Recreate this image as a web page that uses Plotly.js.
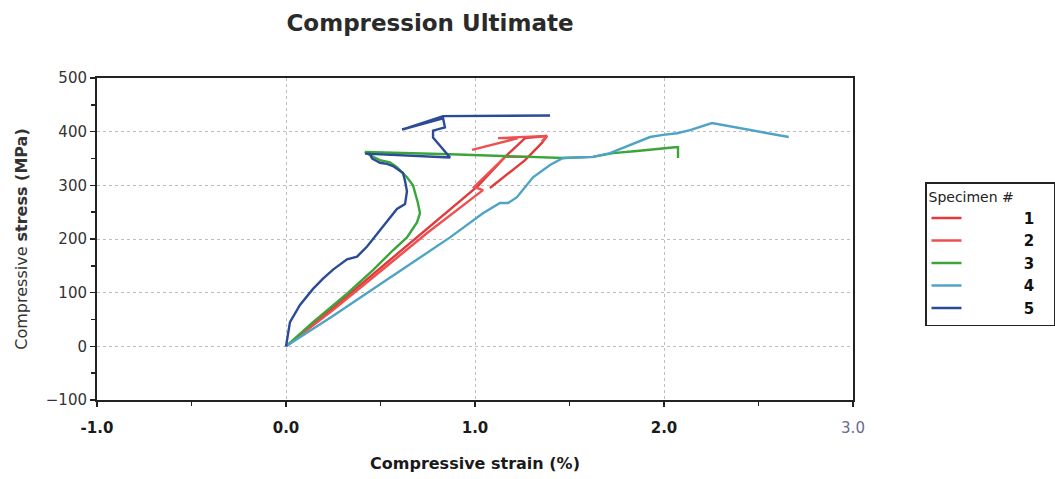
<!DOCTYPE html>
<html>
<head>
<meta charset="utf-8">
<script src="https://cdn.plot.ly/plotly-3.0.1.min.js"></script>
<style>html,body{margin:0;padding:0;background:#fff;}#chart{width:1055px;height:479px;}</style>
</head>
<body>
<div id="chart"></div>
<script>
// Specimen 1 (red)
var s1Strain = [0, 0.25, 0.5, 0.75, 1.016, 1.159, 1.265, 1.381, 1.354, 1.265, 1.079];
var s1Stress = [0, 72, 146, 221, 299, 353, 388, 392, 379, 347, 295];
// Specimen 2 (red, lighter)
var s2Strain = [0, 0.25, 0.5, 0.75, 1.042, 0.995, 1.159, 1.280, null, 0.984, 1.228, 1.122, 1.381, 1.354];
var s2Stress = [0, 68, 140, 212, 291, 297, 353, 353, null, 366, 388, 388, 392, 382];
// Specimen 3 (green)
var s3Strain = [0, 0.143, 0.323, 0.460, 0.566, 0.640, 0.693, 0.709, 0.698, 0.683, 0.672, 0.640, 0.587, 0.550, 0.497, 0.444, 0.418, 0.868, 1.466, 1.624, 1.730, 1.857, 1.979, 2.058, 2.074, 2.074];
var s3Stress = [0, 45, 98, 142, 179, 203, 231, 248, 267, 285, 300, 315, 334, 343, 347, 356, 362, 358, 351, 353, 360, 364, 369, 371, 371, 351];
// Specimen 4 (light blue)
var s4Strain = [0, 0.25, 0.5, 0.75, 0.868, 1.042, 1.132, 1.175, 1.222, 1.307, 1.397, 1.466, 1.624, 1.714, 1.820, 1.926, 1.995, 2.069, 2.138, 2.254, 2.660];
var s4Stress = [0, 57, 116, 174, 203, 248, 267, 267, 278, 315, 338, 351, 353, 360, 375, 390, 394, 397, 403, 416, 390];
// Specimen 5 (dark blue)
var s5Strain = [0, 0.021, 0.074, 0.143, 0.196, 0.249, 0.323, 0.376, 0.429, 0.481, 0.534, 0.587, 0.630, 0.640, 0.630, 0.619, 0.566, 0.534, 0.497, 0.455, 0.444, 0.418, 0.868, 0.815, 0.778, 0.778, 0.841, 0.831, 0.614, 0.831, 1.397];
var s5Stress = [0, 45, 77, 107, 126, 143, 162, 167, 186, 209, 233, 256, 265, 289, 308, 323, 336, 340, 342, 350, 359, 359, 352, 374, 389, 402, 408, 425, 404, 429, 430];

var specimenNames = ['1', '2', '3', '4', '5'];
var specimenColors = ['#e23a3c', '#ee5050', '#3aa63a', '#4ea3c6', '#2b4b98'];
var xTickVals = [-1, 0, 1, 2, 3];
var xTickText = ['<b>-1.0</b>', '<b>0.0</b>', '<b>1.0</b>', '<b>2.0</b>', '<span style="color:#6a6a8e">3.0</span>'];

var xs = [s1Strain, s2Strain, s3Strain, s4Strain, s5Strain];
var ys = [s1Stress, s2Stress, s3Stress, s4Stress, s5Stress];
var pad = '\u00A0'.repeat(12);
var traces = [];
for (var i = 0; i < 5; i++) {
  traces.push({
    x: xs[i], y: ys[i], type: 'scatter', mode: 'lines',
    name: pad + '<b>' + specimenNames[i] + '</b>' + '\u00A0\u00A0\u00A0',
    line: {color: specimenColors[i], width: 2.4},
    connectgaps: false
  });
}

var layout = {
  width: 1055, height: 479,
  paper_bgcolor: '#fff', plot_bgcolor: '#fff',
  margin: {l: 97, r: 202, t: 78, b: 79, autoexpand: false},
  font: {family: 'DejaVu Sans, Verdana, sans-serif', color: '#222', size: 14},
  title: {text: '<b>Compression Ultimate</b>', x: 430/1055, xanchor: 'center', y: 1 - 23/479, yanchor: 'middle',
          font: {size: 23, color: '#2a2a2a'}},
  xaxis: {
    range: [-1, 3], tickvals: xTickVals, ticktext: xTickText,
    showline: true, linecolor: '#222', linewidth: 2, mirror: true,
    ticks: 'outside', ticklen: 5, tickwidth: 1.5, tickcolor: '#222',
    minor: {dtick: 0.5, ticks: 'outside', ticklen: 4, tickcolor: '#222', showgrid: false},
    showgrid: true, gridcolor: '#bdbdbd', griddash: 'dot', gridwidth: 1,
    zeroline: false, ticklabelstandoff: 8,
    tickfont: {size: 15, color: '#1a1a1a'},
    title: {text: '<b>Compressive strain (%)</b>', standoff: 22, font: {size: 16, color: '#1a1a1a'}}
  },
  yaxis: {
    range: [-100, 500], dtick: 100,
    showline: true, linecolor: '#222', linewidth: 2, mirror: true,
    ticks: 'outside', ticklen: 5, tickwidth: 1.5, tickcolor: '#222',
    minor: {dtick: 50, ticks: 'outside', ticklen: 4, tickcolor: '#222', showgrid: false},
    showgrid: true, gridcolor: '#bdbdbd', griddash: 'dot', gridwidth: 1,
    zeroline: false,
    tickfont: {size: 15, color: '#333'},
    title: {text: 'Compressive <b>stress (MPa)</b>', standoff: 14, font: {size: 16, color: '#333'}}
  },
  legend: {
    x: (925 - 97) / 756, xanchor: 'left', y: (400 - 182) / 322, yanchor: 'top',
    bordercolor: '#222', borderwidth: 1.5, bgcolor: '#fff',
    font: {size: 15, color: '#111'},
    title: {text: 'Specimen #', font: {size: 14, color: '#222'}},
    traceorder: 'normal'
  },
  showlegend: true
};

Plotly.newPlot('chart', traces, layout, {displayModeBar: false, staticPlot: true});
</script>
</body>
</html>
